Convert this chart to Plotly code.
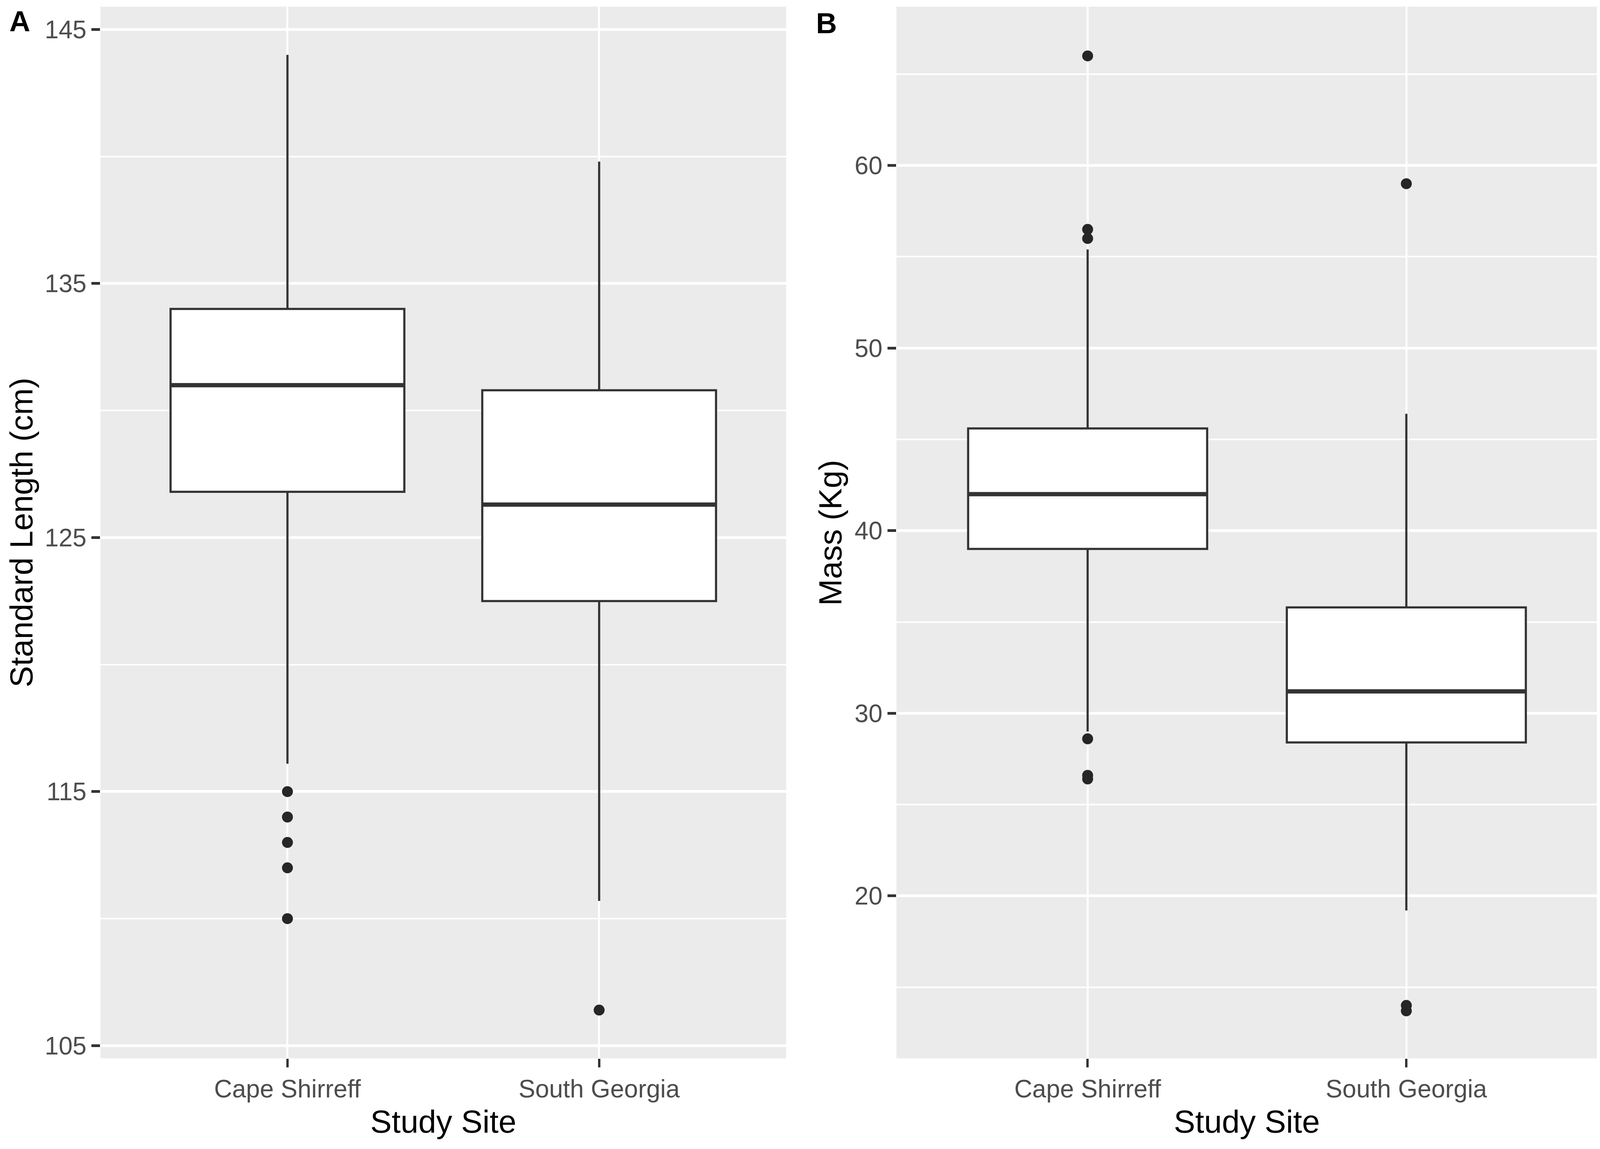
import plotly.graph_objects as go

# study sites (x categories)
sites = ["Cape Shirreff", "South Georgia"]

# panel A: standard length (cm)
length_q1 = [126.8, 122.5]
length_median = [131.0, 126.3]
length_q3 = [134.0, 130.8]
length_lower = [116.1, 110.7]
length_upper = [144.0, 139.8]
length_outliers = [[115.0, 114.0, 113.0, 112.0, 110.0], [106.4]]
length_ticks = [105, 115, 125, 135, 145]
length_minor = [110, 120, 130, 140]

# panel B: mass (kg)
mass_q1 = [39.0, 28.4]
mass_median = [42.0, 31.2]
mass_q3 = [45.6, 35.8]
mass_lower = [29.0, 19.2]
mass_upper = [55.4, 46.4]
mass_outliers = [[66.0, 56.5, 56.0, 28.6, 26.6, 26.4], [59.0, 14.0, 13.7]]
mass_ticks = [20, 30, 40, 50, 60]
mass_minor = [15, 25, 35, 45, 55, 65]

# the page only shows about 4096 px across, so keep the figure inside that
W, H = 4088, 2934
REF_W, REF_H = 4562, 2942  # layout below measured on the reference picture


def fx(px):
    return px / REF_W


def fy(px):
    return 1 - px / REF_H


FONT = "Liberation Sans, Arial, sans-serif"
DARK = "#333333"
BOX_W = 0.75

fig = go.Figure()


def add_panel(xa, ya, q1, med, q3, lo, hi, outliers):
    pos = list(range(1, len(sites) + 1))
    fig.add_trace(go.Box(x=pos, q1=q1, median=med, q3=q3, lowerfence=lo, upperfence=hi,
                         width=BOX_W, whiskerwidth=0, boxpoints=False,
                         fillcolor="white", line=dict(color=DARK, width=5.5),
                         xaxis=xa, yaxis=ya, showlegend=False))
    mx, my = [], []
    for p, m in zip(pos, med):
        mx += [p - BOX_W / 2, p + BOX_W / 2, None]
        my += [m, m, None]
    fig.add_trace(go.Scatter(x=mx, y=my, mode="lines", line=dict(color=DARK, width=11),
                             xaxis=xa, yaxis=ya, showlegend=False, hoverinfo="skip"))
    ox, oy = [], []
    for p, pts in zip(pos, outliers):
        ox += [p] * len(pts)
        oy += pts
    fig.add_trace(go.Scatter(x=ox, y=oy, mode="markers",
                             marker=dict(color="#262626", size=28, line=dict(width=0)),
                             xaxis=xa, yaxis=ya, showlegend=False))


add_panel("x", "y", length_q1, length_median, length_q3, length_lower, length_upper, length_outliers)
add_panel("x2", "y2", mass_q1, mass_median, mass_q3, mass_lower, mass_upper, mass_outliers)

ydom = [fy(2713), fy(9)]
xdom_a = [fx(278), fx(2237)]
xdom_b = [fx(2552), fx(4555)]

tickfont = dict(family=FONT, size=64, color="#4D4D4D")
common_x = dict(range=[0.4, 2.6], tickvals=[1, 2], ticktext=sites, ticks="outside",
                ticklen=22, tickwidth=6, tickcolor=DARK, showgrid=True, gridcolor="white",
                gridwidth=5, zeroline=False, showline=False, tickfont=tickfont, fixedrange=True)
common_y = dict(ticks="outside", ticklen=22, tickwidth=7, tickcolor=DARK, showgrid=True,
                gridcolor="white", gridwidth=7, zeroline=False, showline=False,
                tickfont=tickfont, fixedrange=True)

fig.update_layout(
    width=W, height=H,
    margin=dict(l=0, r=0, t=0, b=0),
    paper_bgcolor="white",
    plot_bgcolor="#EBEBEB",
    font=dict(family=FONT),
    xaxis=dict(domain=xdom_a, anchor="y", **common_x),
    xaxis2=dict(domain=xdom_b, anchor="y2", **common_x),
    yaxis=dict(domain=ydom, anchor="x", range=[104.5, 145.9], tickvals=length_ticks,
               minor=dict(tickvals=length_minor, showgrid=True, gridcolor="white",
                          gridwidth=3.5, ticks=""),
               **common_y),
    yaxis2=dict(domain=ydom, anchor="x2", range=[11.1, 68.7], tickvals=mass_ticks,
                minor=dict(tickvals=mass_minor, showgrid=True, gridcolor="white",
                           gridwidth=3.5, ticks=""),
                **common_y),
)

title_font = dict(family=FONT, size=82, color="black")
label_font = dict(family=FONT, size=74, color="black", weight="bold")

fig.add_annotation(text="Study Site", xref="paper", yref="paper", x=sum(xdom_a) / 2,
                   y=fy(2875), xanchor="center", yanchor="middle", showarrow=False,
                   font=title_font)
fig.add_annotation(text="Study Site", xref="paper", yref="paper", x=sum(xdom_b) / 2,
                   y=fy(2875), xanchor="center", yanchor="middle", showarrow=False,
                   font=title_font)
fig.add_annotation(text="Standard Length (cm)", xref="paper", yref="paper", x=0,
                   y=sum(ydom) / 2, xanchor="left", yanchor="middle", textangle=-90,
                   showarrow=False, font=title_font, borderpad=0)
fig.add_annotation(text="Mass (Kg)", xref="paper", yref="paper", x=fx(2363),
                   y=sum(ydom) / 2, xanchor="center", yanchor="middle", textangle=-90,
                   showarrow=False, font=title_font)
fig.add_annotation(text="A", xref="paper", yref="paper", x=fx(47), y=fy(47),
                   xanchor="center", yanchor="middle", showarrow=False, font=label_font)
fig.add_annotation(text="B", xref="paper", yref="paper", x=fx(2352), y=fy(52),
                   xanchor="center", yanchor="middle", showarrow=False, font=label_font)

fig.write_html("out.html")
